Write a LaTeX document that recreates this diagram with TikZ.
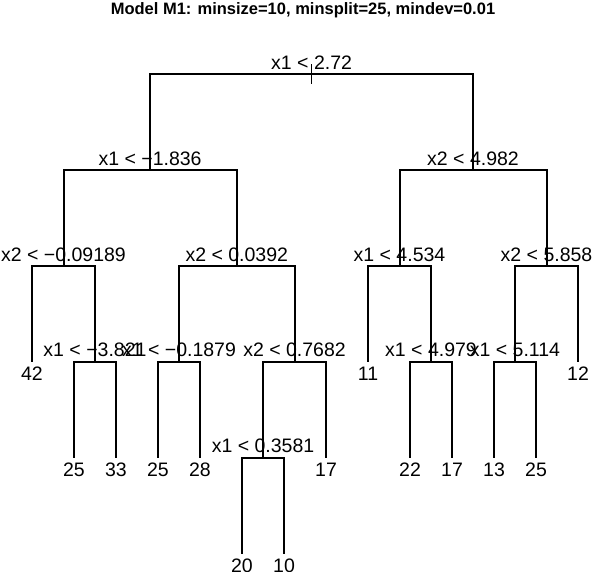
\documentclass[tikz,border=0pt]{standalone}
\usepackage{fontspec}
\setmainfont{Liberation Sans}
\begin{document}
\begin{tikzpicture}[x=1pt,y=-1pt,
  edge/.style={line width=2pt,line cap=butt,line join=miter},
  lab/.style={font=\fontsize{19.5}{20}\selectfont,inner sep=0pt,anchor=base},
  leaflab/.style={font=\fontsize{19.5}{20}\selectfont,inner sep=0pt,anchor=base}]
\useasboundingbox (0,0) rectangle (594,572);
\node[font=\bfseries\fontsize{16.5}{18}\selectfont,inner sep=0pt,anchor=base] (title) at (303,15) {Model M1: minsize=10, minsplit=25, mindev=0.01};
% internal nodes
\coordinate (R) at (311.6,74.5);
\coordinate (A) at (150.1,170.3);
\coordinate (B) at (473,170.3);
\coordinate (A1) at (63.5,266.1);
\coordinate (A2) at (236.75,266.1);
\coordinate (B1) at (399.5,266.1);
\coordinate (B2) at (546.5,266.1);
\coordinate (A11) at (95,361.9);
\coordinate (A21) at (179,361.9);
\coordinate (A22) at (294.5,361.9);
\coordinate (B12) at (431,361.9);
\coordinate (B21) at (515,361.9);
\coordinate (A221) at (263,457.7);
% leaves
\coordinate (L42) at (32,361.9);
\coordinate (L25a) at (74,457.7);
\coordinate (L33) at (116,457.7);
\coordinate (L25b) at (158,457.7);
\coordinate (L28) at (200,457.7);
\coordinate (L20) at (242,553.5);
\coordinate (L10) at (284,553.5);
\coordinate (L17a) at (326,457.7);
\coordinate (L11) at (368,361.9);
\coordinate (L22) at (410,457.7);
\coordinate (L17b) at (452,457.7);
\coordinate (L13) at (494,457.7);
\coordinate (L25c) at (536,457.7);
\coordinate (L12) at (578,361.9);
% edges
\draw[edge] (A) |- (R) -| (B);
\draw[edge] (A1) |- (A) -| (A2);
\draw[edge] (B1) |- (B) -| (B2);
\draw[edge] (L42) |- (A1) -| (A11);
\draw[edge] (L25a) |- (A11) -| (L33);
\draw[edge] (A21) |- (A2) -| (A22);
\draw[edge] (L25b) |- (A21) -| (L28);
\draw[edge] (A221) |- (A22) -| (L17a);
\draw[edge] (L20) |- (A221) -| (L10);
\draw[edge] (L11) |- (B1) -| (B12);
\draw[edge] (L22) |- (B12) -| (L17b);
\draw[edge] (B21) |- (B2) -| (L12);
\draw[edge] (L13) |- (B21) -| (L25c);
\draw[line width=1pt] ([yshift=10pt]R) -- ([yshift=-10pt]R);
% split labels
\node[lab] (tR) at ([yshift=5pt]R) {x1 < 2.72};
\node[lab] (tA) at ([yshift=5pt]A) {x1 < −1.836};
\node[lab] (tB) at ([yshift=5pt]B) {x2 < 4.982};
\node[lab] (tA1) at ([yshift=5pt]A1) {x2 < −0.09189};
\node[lab] (tA2) at ([yshift=5pt]A2) {x2 < 0.0392};
\node[lab] (tB1) at ([yshift=5pt]B1) {x1 < 4.534};
\node[lab] (tB2) at ([yshift=5pt]B2) {x2 < 5.858};
\node[lab] (tA11) at ([yshift=5pt]A11) {x1 < −3.821};
\node[lab] (tA21) at ([yshift=5pt]A21) {x1 < −0.1879};
\node[lab] (tA22) at ([yshift=5pt]A22) {x2 < 0.7682};
\node[lab] (tB12) at ([yshift=5pt]B12) {x1 < 4.979};
\node[lab] (tB21) at ([yshift=5pt]B21) {x1 < 5.114};
\node[lab] (tA221) at ([yshift=5pt]A221) {x1 < 0.3581};
% leaf labels
\node[leaflab] (n42) at ([yshift=-19pt]L42) {42};
\node[leaflab] (n25a) at ([yshift=-19pt]L25a) {25};
\node[leaflab] (n33) at ([yshift=-19pt]L33) {33};
\node[leaflab] (n25b) at ([yshift=-19pt]L25b) {25};
\node[leaflab] (n28) at ([yshift=-19pt]L28) {28};
\node[leaflab] (n20) at ([yshift=-19pt]L20) {20};
\node[leaflab] (n10) at ([yshift=-19pt]L10) {10};
\node[leaflab] (n17a) at ([yshift=-19pt]L17a) {17};
\node[leaflab] (n11) at ([yshift=-19pt]L11) {11};
\node[leaflab] (n22) at ([yshift=-19pt]L22) {22};
\node[leaflab] (n17b) at ([yshift=-19pt]L17b) {17};
\node[leaflab] (n13) at ([yshift=-19pt]L13) {13};
\node[leaflab] (n25c) at ([yshift=-19pt]L25c) {25};
\node[leaflab] (n12) at ([yshift=-19pt]L12) {12};
\end{tikzpicture}
\end{document}
